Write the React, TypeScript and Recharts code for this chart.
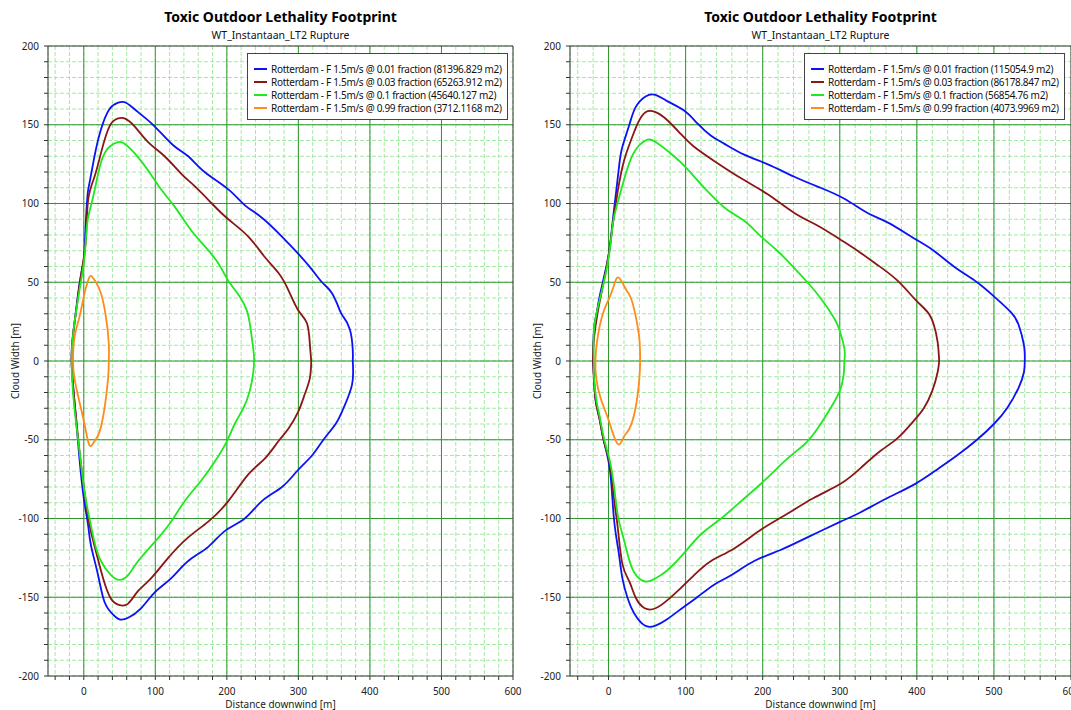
import React from 'react';
import { LineChart, Line, XAxis, YAxis, CartesianGrid, Legend, ReferenceLine, Label } from 'recharts';

type P = [number, number];

const FONT = '"Noto Sans", "Open Sans", sans-serif';
const TITLE = 'Toxic Outdoor Lethality Footprint';
const SUBTITLE = 'WT_Instantaan_LT2 Rupture';
const X_LABEL = 'Distance downwind [m]';
const Y_LABEL = 'Cloud Width [m]';

const fractions = ['0.01', '0.03', '0.1', '0.99'];
const leftAreas = ['81396.829', '65263.912', '45640.127', '3712.1168'];
const rightAreas = ['115054.9', '86178.847', '56854.76', '4073.9969'];
const colors = ['#0b12f5', '#8a1616', '#1fe81f', '#ff8c1a'];

const xMajor = [0, 100, 200, 300, 400, 500];
const yMajor = [-150, -100, -50, 0, 50, 100, 150];
// minor ticks: every 20 m downwind, every 10 m across (labels only on 100 / 50)
const xTicks = Array.from({ length: 33 }, (_, i) => -40 + i * 20);
const yTicks = Array.from({ length: 41 }, (_, i) => -200 + i * 10);

// ---- left panel contours (upper half right->left, lower half left->right)
const l01Up: P[] = [[376,0],[376,7],[372,20],[363,28],[358,32],[347,43],[333,50],[319,58],[300,68],[277,79],[249,91],[225,99],[202,109],[169,120],[146,130],[125,137],[99,149],[76,158],[59,164],[48,164],[36,160],[24,147],[15,130],[8,113],[5,104],[2,80],[0,64],[-6,49],[-13,24],[-17,0]];
const l01Lo: P[] = [[-11,-36],[-6,-62],[0,-87],[6,-104],[10,-117],[20,-136],[29,-153],[41,-161],[50,-164],[62,-163],[80,-157],[99,-147],[122,-138],[146,-127],[174,-118],[197,-108],[225,-100],[249,-89],[277,-80],[298,-70],[319,-60],[335,-50],[352,-40],[363,-30],[375,-15],[376,0]];
const l03Up: P[] = [[318,0],[316,11],[312,24],[300,32],[286,45],[272,56],[253,66],[230,79],[202,90],[179,100],[155,111],[136,119],[113,130],[90,139],[71,149],[57,154],[48,154],[36,149],[24,132],[15,117],[6,102],[3,77],[-4,54],[-13,24],[-17,0]];
const l03Lo: P[] = [[-12,-30],[-6,-57],[1,-83],[8,-104],[17,-121],[27,-138],[38,-151],[50,-155],[62,-154],[76,-146],[94,-138],[118,-125],[146,-112],[174,-102],[202,-89],[230,-72],[253,-62],[272,-51],[286,-43],[300,-32],[309,-21],[316,-11],[318,0]];
const l10Up: P[] = [[238,0],[238,3],[236,11],[232,24],[228,32],[218,41],[202,51],[188,62],[169,73],[150,83],[127,98],[108,109],[90,121],[71,132],[57,138],[48,139],[36,136],[24,126],[13,104],[5,88],[1,66],[-6,45],[-13,24],[-17,0]];
const l10Lo: P[] = [[-13,-30],[-6,-57],[1,-83],[8,-100],[15,-115],[24,-127],[38,-136],[50,-139],[62,-136],[76,-127],[99,-115],[122,-102],[141,-89],[164,-76],[183,-64],[200,-51],[211,-40],[223,-30],[232,-19],[237,-7],[238,0]];
const l99Up: P[] = [[35,0],[35,11],[31,28],[24,43],[17,50],[10,54],[6,51],[1,43],[-6,28],[-13,15],[-15,0]];
const l99Lo: P[] = [[-13,-11],[-6,-26],[1,-40],[6,-51],[10,-54],[15,-51],[22,-45],[29,-30],[34,-11],[35,0]];

// ---- right panel contours
const r01Up: P[] = [[540,0],[539,10],[532,23],[522,31],[500,41],[478,50],[448,60],[422,70],[396,78],[362,88],[336,94],[306,103],[275,110],[241,117],[206,125],[176,131],[150,138],[133,143],[115,151],[98,159],[76,165],[61,169],[48,168],[35,161],[27,150],[18,136],[14,125],[10,108],[5,87],[1,70],[-6,53],[-12,40],[-16,29],[-19,19],[-20,0]];
const r01Lo: P[] = [[-19,-9],[-17,-24],[-12,-36],[-6,-51],[2,-70],[7,-100],[13,-121],[18,-138],[25,-151],[33,-160],[47,-168],[61,-168],[76,-164],[98,-156],[115,-150],[137,-142],[159,-136],[189,-127],[223,-120],[258,-112],[301,-102],[327,-96],[362,-87],[398,-78],[426,-69],[452,-60],[478,-50],[500,-40],[517,-30],[532,-17],[539,-7],[540,0]];
const r03Up: P[] = [[429,0],[427,12],[422,23],[414,31],[398,39],[375,51],[349,61],[323,70],[301,77],[271,86],[241,94],[206,106],[172,116],[137,127],[111,136],[94,144],[76,153],[61,158],[48,158],[38,151],[29,140],[20,127],[12,108],[5,85],[1,70],[-6,51],[-14,31],[-19,14],[-20,0]];
const r03Lo: P[] = [[-17,-24],[-12,-36],[-6,-51],[2,-66],[7,-87],[12,-106],[18,-129],[27,-140],[35,-150],[47,-157],[61,-157],[76,-152],[94,-144],[111,-136],[133,-127],[163,-119],[198,-107],[232,-97],[266,-87],[301,-78],[327,-68],[353,-57],[375,-49],[396,-38],[409,-30],[420,-19],[427,-7],[429,0]];
const r10Up: P[] = [[306,0],[306,8],[300,19],[293,27],[275,40],[258,50],[241,59],[219,70],[198,79],[176,89],[154,96],[128,108],[102,122],[85,130],[61,139],[48,140],[35,134],[25,123],[16,108],[7,91],[3,76],[-3,57],[-12,38],[-19,19],[-19,0]];
const r10Lo: P[] = [[-19,-9],[-16,-24],[-12,-34],[-6,-49],[1,-62],[7,-79],[12,-98],[18,-110],[25,-123],[33,-134],[47,-140],[61,-138],[76,-133],[98,-122],[120,-110],[146,-100],[172,-89],[202,-76],[232,-62],[254,-53],[271,-43],[288,-30],[300,-19],[305,-9],[306,0]];
const r99Up: P[] = [[41,0],[40,14],[35,29],[29,40],[22,46],[13,53],[7,48],[1,40],[-8,29],[-15,12],[-17,0]];
const r99Lo: P[] = [[-16,-11],[-10,-24],[-1,-36],[5,-45],[13,-53],[20,-48],[27,-43],[35,-30],[40,-11],[41,0]];

const toPts = (up: P[], lo: P[]) => [...up, ...lo].map(([x, y]) => ({ x, y }));

const leftSeries = [toPts(l01Up, l01Lo), toPts(l03Up, l03Lo), toPts(l10Up, l10Lo), toPts(l99Up, l99Lo)];
const rightSeries = [toPts(r01Up, r01Lo), toPts(r03Up, r03Lo), toPts(r10Up, r10Lo), toPts(r99Up, r99Lo)];

const seriesName = (i: number, areas: string[]) =>
  `Rotterdam - F 1.5m/s @ ${fractions[i]} fraction (${areas[i]} m2)`;

const renderLegend = (props: any) => (
  <div style={{ width: 261, boxSizing: 'border-box', border: '1px solid #444', background: '#fff', padding: '8px 5px 5px 6px', fontFamily: FONT, fontSize: 10, letterSpacing: -0.3, color: '#111' }}>
    {(props.payload || []).map((e: any) => (
      <div key={e.value} style={{ display: 'flex', alignItems: 'center', height: 13, whiteSpace: 'nowrap' }}>
        <span style={{ flex: '0 0 13px', height: 0, borderTop: `2px solid ${e.color}`, marginRight: 4 }} />
        <span>{e.value}</span>
      </div>
    ))}
  </div>
);

const renderYLabel = (props: any) => {
  const vb = props.viewBox || { x: 0, y: 46, width: 48, height: 630 };
  const x = vb.x + 15;
  const y = vb.y + vb.height / 2;
  return (
    <text x={x} y={y} transform={`rotate(-90 ${x} ${y})`} textAnchor="middle" dominantBaseline="central" fontSize={10} fontFamily={FONT} fill="#222">
      {Y_LABEL}
    </text>
  );
};

const renderXLabel = (props: any) => {
  const vb = props.viewBox || { x: 48, y: 676, width: 465, height: 34 };
  return (
    <text x={vb.x + vb.width / 2} y={708} textAnchor="middle" fontSize={10} fontFamily={FONT} fill="#222">
      {X_LABEL}
    </text>
  );
};

interface PanelProps {
  left: number;
  width: number;
  marginRight: number;
  series: { x: number; y: number }[][];
  areas: string[];
  legendLeft: number;
}

function Panel({ left, width, marginRight, series, areas, legendLeft }: PanelProps) {
  const plotLeft = 48;
  const plotRight = width - marginRight;
  const cx = (plotLeft + plotRight) / 2;
  const tick = { fill: '#222', fontSize: 10, fontFamily: FONT };
  return (
    <div style={{ position: 'absolute', left, top: 0, width, height: 710 }}>
      <LineChart width={width} height={710} margin={{ top: 46, right: marginRight, bottom: 0, left: 0 }}>
        <CartesianGrid stroke="#a3e9a3" strokeDasharray="4 2" />
        <CartesianGrid stroke="#2f962f" verticalValues={xMajor} horizontalValues={yMajor} />
        <XAxis
          type="number"
          dataKey="x"
          domain={[-50, 600]}
          ticks={xTicks}
          interval={0}
          allowDataOverflow
          tickFormatter={(v: number) => (v % 100 === 0 ? String(v) : '')}
          tickSize={4}
          tickMargin={8}
          height={34}
          stroke="#333"
          tick={tick}
        >
          <Label content={renderXLabel} />
        </XAxis>
        <YAxis
          type="number"
          dataKey="y"
          domain={[-200, 200]}
          ticks={yTicks}
          interval={0}
          allowDataOverflow
          tickFormatter={(v: number) => (v % 50 === 0 ? String(v) : '')}
          tickSize={4}
          tickMargin={5}
          width={48}
          stroke="#333"
          tick={tick}
        >
          <Label content={renderYLabel} />
        </YAxis>
        <ReferenceLine y={200} stroke="#333" />
        <ReferenceLine x={600} stroke="#333" />
        <Legend
          layout="horizontal"
          verticalAlign="middle"
          align="center"
          content={renderLegend}
          wrapperStyle={{ left: legendLeft, top: 53, width: 261, height: 'auto' }}
        />
        {series.map((pts, i) => (
          <Line
            key={i}
            data={pts}
            dataKey="y"
            name={seriesName(i, areas)}
            type="natural"
            stroke={colors[i]}
            strokeWidth={1.8}
            dot={false}
            activeDot={false}
            isAnimationActive={false}
          />
        ))}
      </LineChart>
      <svg width={width} height={44} style={{ position: 'absolute', left: 0, top: 0, pointerEvents: 'none' }}>
        <text x={cx} y={22} textAnchor="middle" fontFamily={FONT} fontWeight="bold" fontSize={14} fill="#000">
          {TITLE}
        </text>
        <text x={cx} y={39} textAnchor="middle" fontFamily={FONT} fontSize={10.5} fill="#111">
          {SUBTITLE}
        </text>
      </svg>
    </div>
  );
}

export default function App() {
  return (
    <div style={{ position: 'absolute', left: 0, top: 0, width: 1071, height: 710, overflow: 'hidden', background: '#fff' }}>
      <Panel left={0} width={530} marginRight={17} series={leftSeries} areas={leftAreas} legendLeft={247} />
      <Panel left={522} width={549} marginRight={0} series={rightSeries} areas={rightAreas} legendLeft={282} />
    </div>
  );
}
